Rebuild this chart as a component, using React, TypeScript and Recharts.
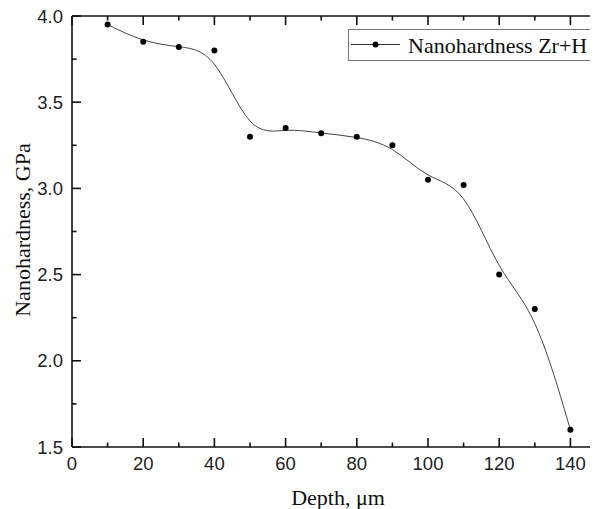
import React from 'react';
import { ComposedChart, Line, XAxis, YAxis, Legend } from 'recharts';

// measured values, depth in µm, hardness in GPa
const depth = [10, 20, 30, 40, 50, 60, 70, 80, 90, 100, 110, 120, 130, 140];
const hardness = [3.95, 3.85, 3.82, 3.8, 3.3, 3.35, 3.32, 3.3, 3.25, 3.05, 3.02, 2.5, 2.3, 1.6];

const xTicks = [0, 10, 20, 30, 40, 50, 60, 70, 80, 90, 100, 110, 120, 130, 140];
const yTicks = [1.5, 1.75, 2.0, 2.25, 2.5, 2.75, 3.0, 3.25, 3.5, 3.75, 4.0];

const data = depth.map((d, i) => ({ depth: d, hardness: hardness[i] }));

const SANS = '"Liberation Sans", Arial, sans-serif';
const SERIF = '"Liberation Serif", "Times New Roman", serif';
const INK = '#111';
const MAJOR = 9;
const MINOR = 4.5;

const isMajorX = (v: number) => v % 20 === 0;
const isMajorY = (v: number) => Math.abs(v * 2 - Math.round(v * 2)) < 1e-6;

const BottomTick = ({ x, y, payload }: any) => {
  const major = isMajorX(payload.value);
  return (
    <g>
      <line x1={x} x2={x} y1={y} y2={y - (major ? MAJOR : MINOR)} stroke={INK} strokeWidth={1.6} />
      {major && (
        <text x={x} y={y + 23} textAnchor="middle" fontFamily={SANS} fontSize={18.5} fill="#222">
          {payload.value}
        </text>
      )}
    </g>
  );
};

const TopTick = ({ x, y, payload }: any) => {
  const major = isMajorX(payload.value);
  return <line x1={x} x2={x} y1={y} y2={y + (major ? MAJOR : MINOR)} stroke={INK} strokeWidth={1.6} />;
};

const LeftTick = ({ x, y, payload }: any) => {
  const major = isMajorY(payload.value);
  return (
    <g>
      <line x1={x} x2={x + (major ? MAJOR : MINOR)} y1={y} y2={y} stroke={INK} strokeWidth={1.6} />
      {major && (
        <text x={x - 9} y={y + 6.5} textAnchor="end" fontFamily={SANS} fontSize={18.5} fill="#222">
          {payload.value.toFixed(1)}
        </text>
      )}
    </g>
  );
};

const RightTick = ({ x, y, payload }: any) => {
  const major = isMajorY(payload.value);
  return <line x1={x} x2={x - (major ? MAJOR : MINOR)} y1={y} y2={y} stroke={INK} strokeWidth={1.6} />;
};

const LegendBox = () => (
  <svg width={245} height={33}>
    <rect x={0.5} y={0.5} width={243} height={31} fill="#fff" stroke="#777" strokeWidth={1} />
    <line x1={3} x2={52} y1={15.5} y2={15.5} stroke="#333" strokeWidth={1} />
    <circle cx={27.5} cy={15.5} r={3} fill="#000" />
    <text x={60} y={24} fontFamily={SERIF} fontSize={22} fill="#111">
      Nanohardness Zr+H
    </text>
  </svg>
);

const xTitle = () => (
  <text x={338} y={505} textAnchor="middle" fontFamily={SERIF} fontSize={22} fill="#111">
    Depth, μm
  </text>
);

const yTitle = () => (
  <text transform="translate(29.5,230) rotate(-90)" textAnchor="middle" fontFamily={SERIF} fontSize={22} fill="#111">
    Nanohardness, GPa
  </text>
);

export default function App() {
  return (
    <div
      style={{
        position: 'relative',
        marginLeft: -8,
        marginTop: -8,
        width: 598,
        height: 509,
        overflow: 'hidden',
        background: '#fff',
      }}
    >
      <ComposedChart width={607} height={509} data={data} margin={{ top: 15, right: 0, bottom: 0, left: 0 }}>
        <XAxis
          dataKey="depth"
          type="number"
          domain={[0, 150]}
          allowDataOverflow
          ticks={xTicks}
          interval={0}
          height={62}
          tickSize={0}
          tickMargin={0}
          tickLine={false}
          axisLine={{ stroke: INK, strokeWidth: 1.6 }}
          tick={BottomTick}
          label={xTitle}
        />
        <XAxis
          xAxisId="top"
          dataKey="depth"
          orientation="top"
          type="number"
          domain={[0, 150]}
          allowDataOverflow
          ticks={xTicks}
          interval={0}
          height={1}
          tickSize={0}
          tickMargin={0}
          tickLine={false}
          axisLine={{ stroke: INK, strokeWidth: 1.6 }}
          tick={TopTick}
        />
        <YAxis
          type="number"
          domain={[1.5, 4]}
          allowDataOverflow
          ticks={yTicks}
          interval={0}
          width={72}
          tickSize={0}
          tickMargin={0}
          tickLine={false}
          axisLine={{ stroke: INK, strokeWidth: 1.6 }}
          tick={LeftTick}
          label={yTitle}
        />
        <YAxis
          yAxisId="right"
          orientation="right"
          type="number"
          domain={[1.5, 4]}
          allowDataOverflow
          ticks={yTicks}
          interval={0}
          width={1}
          tickSize={0}
          tickMargin={0}
          tickLine={false}
          axisLine={{ stroke: INK, strokeWidth: 1.6 }}
          tick={RightTick}
        />
        <Legend
          layout="horizontal"
          verticalAlign="middle"
          align="center"
          content={LegendBox}
          wrapperStyle={{ left: 348, top: 29, width: 245, height: 33 }}
        />
        {/* frame helper: binds the top and right axes so they get drawn */}
        <Line
          xAxisId="top"
          yAxisId="right"
          dataKey="hardness"
          stroke="none"
          dot={false}
          activeDot={false}
          legendType="none"
          isAnimationActive={false}
        />
        <Line
          type="basis"
          dataKey="hardness"
          name="Nanohardness Zr+H"
          stroke="#444"
          strokeWidth={1}
          dot={{ r: 3, fill: '#000', stroke: '#000', strokeWidth: 0 }}
          activeDot={false}
          isAnimationActive={false}
        />
      </ComposedChart>
    </div>
  );
}
